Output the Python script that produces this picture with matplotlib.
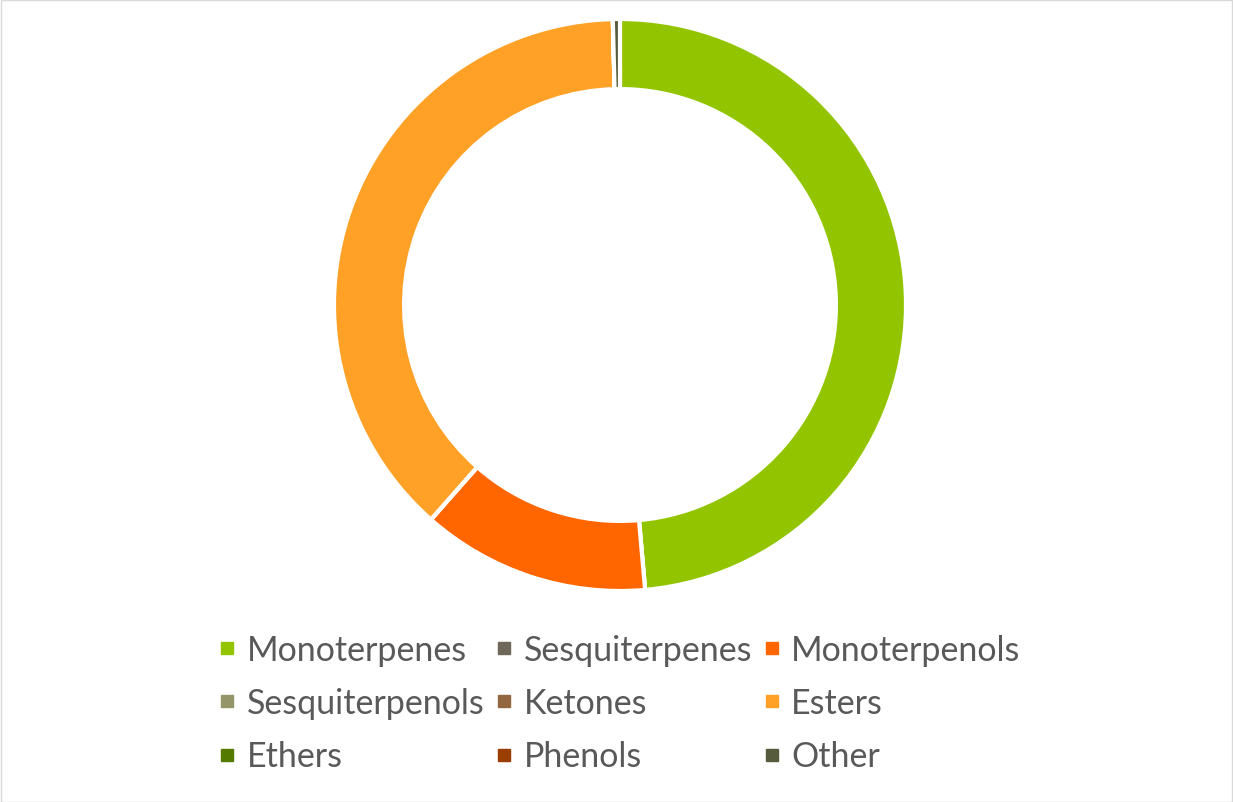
import matplotlib.pyplot as plt
from matplotlib.lines import Line2D
from matplotlib.patches import Rectangle

labels = ['Monoterpenes', 'Sesquiterpenes', 'Monoterpenols',
          'Sesquiterpenols', 'Ketones', 'Esters',
          'Ethers', 'Phenols', 'Other']
values = [48.6, 0, 12.9, 0, 0, 38.1, 0, 0, 0.4]
colors = ['#92C500', '#6E675A', '#FF6600',
          '#94966A', '#936840', '#FFA126',
          '#557A00', '#993D00', '#575B3E']

W, H = 1233, 803
fig = plt.figure(figsize=(W / 100, H / 100), dpi=100)

cx, cy, r = 620, 306, 286
ax = fig.add_axes([(cx - r) / W, (H - cy - r) / H, 2 * r / W, 2 * r / H])
ax.pie(values, colors=colors, startangle=90, counterclock=False, radius=1,
       wedgeprops=dict(width=0.245, edgecolor='white', linewidth=3))
ax.set_xlim(-1, 1)
ax.set_ylim(-1, 1)
ax.set_aspect('equal')
ax.axis('off')

# legend, row-major order like the original
order = [0, 3, 6, 1, 4, 7, 2, 5, 8]
handles = [Line2D([], [], marker='s', linestyle='none', markersize=9,
                  markerfacecolor=colors[i], markeredgecolor=colors[i]) for i in order]
fig.legend(handles, [labels[i] for i in order], ncol=3, loc='center',
           bbox_to_anchor=(620 / W, (H - 704) / H), frameon=False,
           prop={'family': 'Lato', 'size': 24.5}, labelcolor='#595959',
           handlelength=0.45, handletextpad=0.35, columnspacing=0.35,
           labelspacing=0.63)

fig.add_artist(Rectangle((0.5 / W, 0.5 / H), 1 - 1.5 / W, 1 - 1.5 / H,
                         transform=fig.transFigure, fill=False,
                         edgecolor='#D9D9D9', linewidth=1))

fig.savefig('out.png', dpi=100, facecolor='white')
